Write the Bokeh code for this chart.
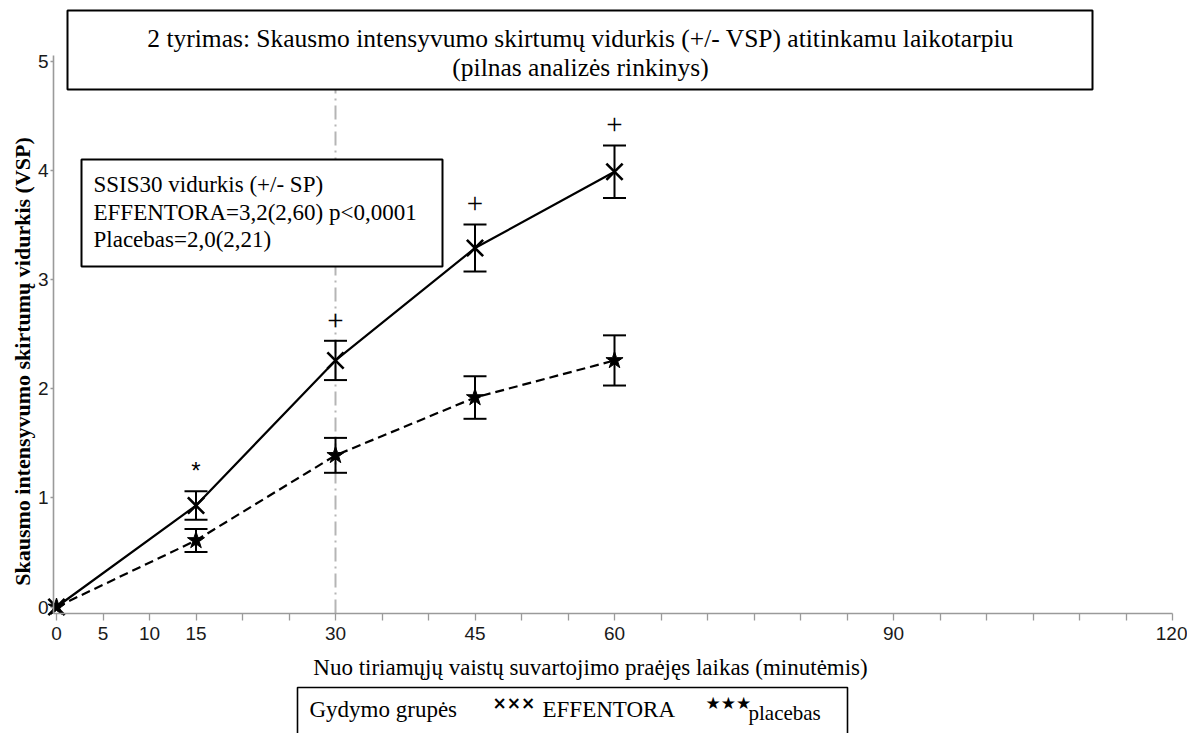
import math
from bokeh.plotting import figure
from bokeh.models import Range1d, FixedTicker, Whisker, TeeHead, ColumnDataSource
from bokeh.core.properties import value
from bokeh.embed import file_html
from bokeh.resources import INLINE

# ---------------- data ----------------
time_min = [0, 15, 30, 45, 60]
effentora_mean = [0.0, 0.93, 2.26, 3.29, 3.99]
effentora_se = [0.0, 0.13, 0.18, 0.215, 0.24]
placebo_mean = [0.0, 0.61, 1.39, 1.92, 2.26]
placebo_se = [0.0, 0.105, 0.16, 0.195, 0.23]

sig_time = [15, 30, 45, 60]
sig_mark = ["*", "+", "+", "+"]
sig_level = [1.25, 2.63, 3.70, 4.42]

x_ticks = list(range(0, 121, 5))
x_labelled = [0, 5, 10, 15, 30, 45, 60, 90, 120]
y_ticks = [0, 1, 2, 3, 4, 5]
ref_time = 30

title_lines = ["2 tyrimas: Skausmo intensyvumo skirtumų vidurkis (+/- VSP) atitinkamu laikotarpiu",
               "(pilnas analizės rinkinys)"]
box_lines = ["SSIS30 vidurkis (+/- SP)",
             "EFFENTORA=3,2(2,60) p<0,0001",
             "Placebas=2,0(2,21)"]
x_title = "Nuo tiriamųjų vaistų suvartojimo praėjęs laikas (minutėmis)"
y_title = "Skausmo intensyvumo skirtumų vidurkis (VSP)"
legend_title = "Gydymo grupės"
legend_names = ["EFFENTORA", "placebas"]

# ---------------- layout helpers ----------------
W, H = 1187, 733
X0, XS = 56.0, 9.3      # screen px of x=0, px per minute
Y0, YS = 606.5, 109.1   # screen px of y=0, px per unit


def sx(px):
    return (px - X0) / XS


def sy(py):
    return (Y0 - py) / YS


SERIF = value("Liberation Serif")
SANS = value("Liberation Sans")

p = figure(width=W, height=H, output_backend="svg", toolbar_location=None,
           x_range=Range1d(sx(0), sx(W)), y_range=Range1d(sy(H), sy(0)),
           min_border=0, min_border_left=0, min_border_right=0,
           min_border_top=0, min_border_bottom=0)
p.outline_line_color = None
p.xgrid.visible = False
p.ygrid.visible = False
p.background_fill_color = "white"

AX_COL = "#9a9a9a"
for ax in (p.xaxis[0], p.yaxis[0]):
    ax.axis_line_color = AX_COL
    ax.axis_line_width = 1.6
    ax.major_tick_line_color = AX_COL
    ax.major_tick_line_width = 1.3
    ax.minor_tick_line_color = None
    ax.major_tick_in = 0
    ax.major_label_text_font = "Liberation Sans"
    ax.major_label_text_font_size = "19px"
    ax.major_label_text_color = "#1a1a1a"

p.xaxis[0].fixed_location = sy(613)
p.yaxis[0].fixed_location = sx(53)
p.xaxis.bounds = (sx(53), 120)
p.yaxis.bounds = (sy(613), sy(55))
p.xaxis.ticker = FixedTicker(ticks=x_ticks)
p.xaxis.major_label_overrides = {t: (str(t) if t in x_labelled else "") for t in x_ticks}
p.xaxis.major_tick_out = 7
p.xaxis.major_label_standoff = 6
p.yaxis.ticker = FixedTicker(ticks=y_ticks)
p.yaxis.major_tick_out = 3
p.yaxis.major_label_standoff = 2

# reference vertical line at 30 min
p.segment(x0=[ref_time], y0=[sy(613)], x1=[ref_time], y1=[sy(55)],
          line_color="#b5b5b5", line_width=2, line_dash="14 5 2 5")

# series lines
p.line(time_min, effentora_mean, line_color="black", line_width=2.2)
p.line(time_min, placebo_mean, line_color="black", line_width=2.2, line_dash="9 5")


# error bars
def whisk(mean, se):
    src = ColumnDataSource(dict(x=time_min[1:],
                                lo=[m - s for m, s in zip(mean[1:], se[1:])],
                                hi=[m + s for m, s in zip(mean[1:], se[1:])]))
    w = Whisker(source=src, base="x", lower="lo", upper="hi",
                line_color="black", line_width=2,
                upper_head=TeeHead(size=23, line_width=2, line_color="black"),
                lower_head=TeeHead(size=23, line_width=2, line_color="black"))
    w.level = "overlay"
    p.add_layout(w)


whisk(effentora_mean, effentora_se)
whisk(placebo_mean, placebo_se)

# markers
p.scatter(time_min, effentora_mean, marker="x", size=23, line_color="black", line_width=2.6)
p.scatter(time_min, placebo_mean, marker="star", size=18, fill_color="black", line_color="black")

# significance marks
p.text(sig_time[:1], sig_level[:1], text=sig_mark[:1], text_font=SANS, text_font_size="24px",
       text_align="center", text_baseline="middle", text_color="black")
p.text(sig_time[1:], sig_level[1:], text=sig_mark[1:], text_font=SERIF, text_font_size="29px",
       text_align="center", text_baseline="middle", text_color="black")

# title box
p.quad(left=[sx(67)], right=[sx(1092)], top=[sy(10)], bottom=[sy(89)],
       fill_color="white", line_color="black", line_width=2)
p.text([sx(580), sx(580)], [sy(38), sy(67)], text=title_lines, text_font=SERIF,
       text_font_size="25.5px", text_align="center", text_baseline="middle", text_color="black")

# statistics box
p.quad(left=[sx(81)], right=[sx(442)], top=[sy(159)], bottom=[sy(266)],
       fill_color="white", line_color="black", line_width=2)
p.text([sx(93)] * 3, [sy(184), sy(212), sy(239)], text=box_lines, text_font=SERIF,
       text_font_size="23px", text_align="left", text_baseline="middle", text_color="black")

# axis titles
p.text([sx(590)], [sy(667)], text=[x_title], text_font=SERIF, text_font_size="23px",
       text_align="center", text_baseline="middle", text_color="black")
p.text([sx(22)], [sy(361)], text=[y_title], text_font=SERIF, text_font_size="22px",
       text_font_style="bold", angle=math.pi / 2,
       text_align="center", text_baseline="middle", text_color="black")

# legend box
p.quad(left=[sx(297)], right=[sx(847)], top=[sy(687)], bottom=[sy(780)],
       fill_color="white", line_color="black", line_width=1.6)
p.text([sx(309)], [sy(709)], text=[legend_title], text_font=SERIF, text_font_size="23px",
       text_align="left", text_baseline="middle", text_color="black")
p.text([sx(492)], [sy(702)], text=["×××"], text_font=value("DejaVu Sans"), text_font_size="17px",
       text_font_style="bold", text_align="left", text_baseline="middle", text_color="black")
p.text([sx(542)], [sy(709)], text=[legend_names[0]], text_font=SERIF, text_font_size="23px",
       text_align="left", text_baseline="middle", text_color="black")
p.text([sx(705)], [sy(702)], text=["★★★"], text_font=value("DejaVu Sans"), text_font_size="17px",
       text_align="left", text_baseline="middle", text_color="black")
p.text([sx(748)], [sy(712)], text=[legend_names[1]], text_font=SERIF, text_font_size="21px",
       text_align="left", text_baseline="middle", text_color="black")

open("out.html", "w").write(file_html(p, INLINE))
